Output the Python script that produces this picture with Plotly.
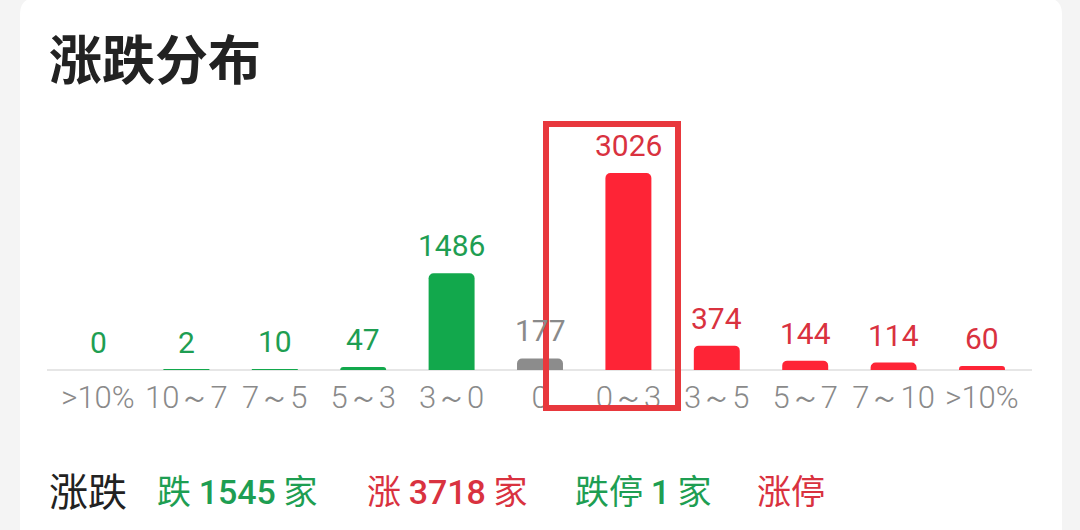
import plotly.graph_objects as go

# ---- data ----
categories = [">10%", "10～7", "7～5", "5～3", "3～0", "0", "0～3", "3～5", "5～7", "7～10", ">10%"]
counts = [0, 2, 10, 47, 1486, 177, 3026, 374, 144, 114, 60]
direction = ["down", "down", "down", "down", "down", "flat", "up", "up", "up", "up", "up"]

summary_labels = ["跌", "涨", "跌停", "涨停"]
summary_values = [1545, 3718, 1, None]
summary_dirs = ["down", "up", "down", "up"]

title_text = "涨跌分布"
summary_title = "涨跌"

# ---- styles ----
W, H = 1080, 530
bar_colors = {"down": "#12a84c", "flat": "#8c8c8c", "up": "#fe2436"}
label_colors = {"down": "#1e9e52", "flat": "#8a8a8a", "up": "#d9323f"}
num_font = "Roboto, 'Noto Sans', sans-serif"
cjk_font = "'Noto Sans CJK SC', 'Noto Sans', sans-serif"

def px_x(p):
    return p / W

def px_y(p):
    return 1 - p / H

x_idx = list(range(len(categories)))

fig = go.Figure()
fig.add_trace(go.Bar(
    x=x_idx,
    y=counts,
    width=0.52,
    marker=dict(color=[bar_colors[d] for d in direction], cornerradius=5, line=dict(width=0)),
    hoverinfo="skip",
))

# value labels above bars
for i, (v, d) in enumerate(zip(counts, direction)):
    fig.add_annotation(
        x=i, y=v, xref="x", yref="y", text=str(v), showarrow=False,
        yanchor="bottom", xanchor="center", yshift=8,
        font=dict(family=num_font, size=30, color=label_colors[d], weight=400),
    )

y_top_px, y_base_px = 100, 370
y_max = max(counts) * (y_base_px - y_top_px) / (y_base_px - 173)

fig.update_layout(
    width=W, height=H,
    margin=dict(l=0, r=0, t=0, b=0),
    paper_bgcolor="#f4f4f4",
    plot_bgcolor="rgba(0,0,0,0)",
    showlegend=False,
    xaxis=dict(
        domain=[px_x(53.8), px_x(1026.2)],
        range=[-0.5, len(categories) - 0.5],
        tickmode="array", tickvals=x_idx, ticktext=categories,
        tickfont=dict(family=num_font, size=31, color="#8a8a8a", weight=300),
        ticks="", ticklabelstandoff=6,
        showline=False, showgrid=False, zeroline=False, fixedrange=True,
    ),
    yaxis=dict(
        domain=[px_y(y_base_px), px_y(y_top_px)],
        range=[0, y_max],
        visible=False, showgrid=False, zeroline=False, fixedrange=True,
    ),
)

# white card
fig.add_shape(
    type="path", xref="paper", yref="paper", layer="below",
    path=(f"M {px_x(20)},{px_y(560)} L {px_x(20)},{px_y(14)} Q {px_x(20)},{px_y(-2)} {px_x(36)},{px_y(-2)} "
          f"L {px_x(1046)},{px_y(-2)} Q {px_x(1062)},{px_y(-2)} {px_x(1062)},{px_y(14)} L {px_x(1062)},{px_y(560)} Z"),
    fillcolor="#ffffff", line=dict(width=0),
)

# baseline
fig.add_shape(
    type="line", xref="paper", yref="paper", layer="below",
    x0=px_x(47), x1=px_x(1032), y0=px_y(370), y1=px_y(370),
    line=dict(color="#e6e6e6", width=2),
)

# red highlight rectangle around the 0~3 column
fig.add_shape(
    type="rect", xref="paper", yref="paper", layer="above",
    x0=px_x(546), x1=px_x(678), y0=px_y(408), y1=px_y(124),
    line=dict(color="#e8383d", width=6), fillcolor="rgba(0,0,0,0)",
)

# title
fig.add_annotation(
    x=px_x(47), y=px_y(57), xref="paper", yref="paper", xanchor="left", yanchor="middle",
    text=f"<b>{title_text}</b>", showarrow=False,
    font=dict(family=cjk_font, size=53, color="#222222"),
)

# summary row
fig.add_annotation(
    x=px_x(47), y=px_y(489), xref="paper", yref="paper", xanchor="left", yanchor="middle",
    text=summary_title, showarrow=False,
    font=dict(family=cjk_font, size=39, color="#222222"),
)
summary_x = [155, 365, 573, 755]
for lbl, val, d, sx in zip(summary_labels, summary_values, summary_dirs, summary_x):
    col = label_colors[d]
    if val is None:
        txt = lbl
    else:
        txt = f"{lbl} <span style='font-family:Roboto;font-weight:500'>{val}</span> 家"
    fig.add_annotation(
        x=px_x(sx), y=px_y(489), xref="paper", yref="paper", xanchor="left", yanchor="middle",
        text=txt, showarrow=False,
        font=dict(family=cjk_font, size=34, color=col),
    )

fig.write_html("out.html", config={"displayModeBar": False},
               post_script="document.body.style.margin='0';")
